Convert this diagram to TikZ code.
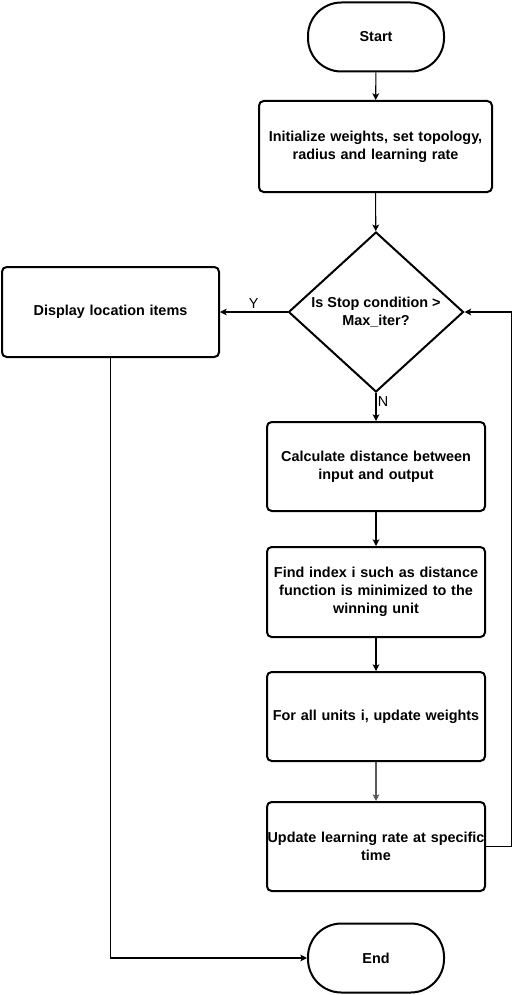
\documentclass[tikz,border=0pt]{standalone}
\usepackage{fontspec}
\setmainfont{Liberation Sans}
\usetikzlibrary{shapes.geometric,arrows.meta}
\tikzset{
  px/.style={x=0.75pt,y=-0.75pt},
  txt/.style={font=\fontsize{10.8pt}{13.3pt}\selectfont\bfseries, align=center, text=black},
  box/.style={txt, draw=black, line width=1.5pt, rounded corners=3.5pt, minimum width=#1, text width=#1, inner sep=0pt},
  term/.style={txt, draw=black, line width=1.5pt, rounded corners=25pt, minimum width=102pt, minimum height=51.75pt, inner sep=0pt},
  conn/.style={line width=0.8pt, draw=black, -{Stealth[length=5pt,width=5pt,inset=1.2pt]}},
  lbl/.style={font=\fontsize{10.8pt}{13pt}\selectfont, text=black, inner sep=1pt}
}
\begin{document}
\begin{tikzpicture}[px]
\useasboundingbox (0,0) rectangle (520,995);
\node[term] (start) at (376,37) {Start};
\node[box=174.75pt, minimum height=68.25pt] (init) at (375.5,146.5) {Initialize weights, set topology,\\radius and learning rate};
\node[diamond, draw=black, line width=1.5pt, minimum width=131.25pt, minimum height=120pt, inner sep=0pt,
  label={[txt]center:Is Stop condition >\\Max\_iter?}] (dia) at (376,312) {};
\node[box=162.75pt, minimum height=67.5pt] (disp) at (110.5,312) {Display location items};
\node[box=163.5pt, minimum height=66.75pt] (calc) at (376,466.5) {Calculate distance between\\input and output};
\node[box=163.5pt, minimum height=67.5pt] (find) at (376,592) {Find index i such as distance\\function is minimized to the\\winning unit};
\node[box=163.5pt, minimum height=66.75pt] (forall) at (376,716.5) {For all units i, update weights};
\node[box=163.5pt, minimum height=66.75pt] (upd) at (376,846.5) {Update learning rate at specific\\time};
\node[term] (end) at (376,958) {End};
\coordinate (fb) at (511.5,846.5);

\draw[conn] (start) -- (init);
\draw[conn] (init) -- (dia);
\draw[conn] (dia.west) -- node[lbl, midway, above, yshift=1pt] {Y} (disp.east);
\draw[conn] (dia.south) -- node[lbl, pos=0.3, right] {N} (calc.north);
\draw[conn] (calc) -- (find);
\draw[conn] (find) -- (forall);
\draw[conn, draw=black!65] (forall) -- (upd);
\draw[conn] (upd.east) -- (fb) |- (dia.east);
\draw[conn] (disp.south) |- (end.west);
\end{tikzpicture}
\end{document}
